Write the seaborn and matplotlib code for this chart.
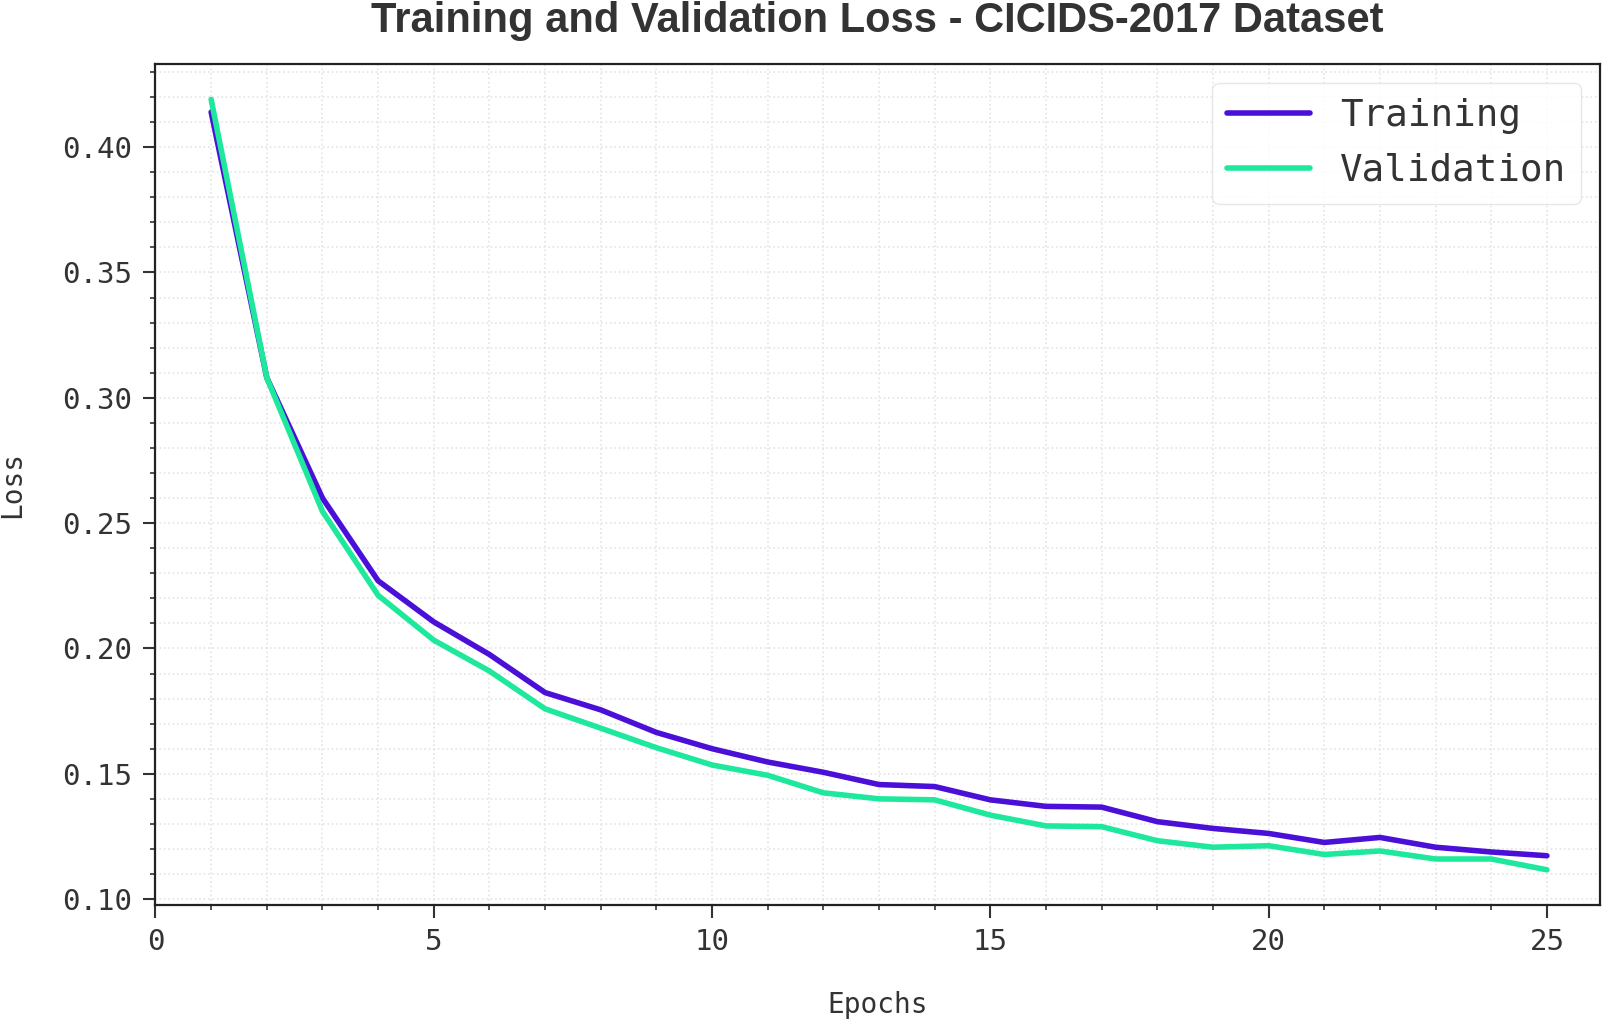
"""Training vs validation loss curve."""

import matplotlib.pyplot as plt
import pandas as pd
import seaborn as sns
from matplotlib.ticker import MultipleLocator

sns.set_theme(style="ticks")

epochs = list(range(1, 26))
train_loss = [0.414, 0.308, 0.260, 0.227, 0.2106, 0.1976, 0.1824, 0.1755, 0.1665,
              0.160, 0.1547, 0.1506, 0.1457, 0.1449, 0.1396, 0.1370, 0.1367, 0.1309,
              0.1282, 0.1262, 0.1226, 0.1246, 0.1207, 0.1188, 0.1173]
val_loss = [0.4190, 0.308, 0.2547, 0.2212, 0.2033, 0.1910, 0.1759, 0.1682, 0.1604,
            0.1535, 0.1494, 0.1424, 0.1400, 0.1396, 0.1335, 0.1292, 0.1289, 0.1233,
            0.1207, 0.1213, 0.1178, 0.1192, 0.1160, 0.1160, 0.1117]
series_names = ["Training", "Validation"]
series_colors = ["#4A10D8", "#1DE89C"]

df = pd.DataFrame({
    "Epochs": epochs * 2,
    "Loss": train_loss + val_loss,
    "Series": [series_names[0]] * len(epochs) + [series_names[1]] * len(epochs),
})

mono = "DejaVu Sans Mono"
text_col = "#333333"

fig = plt.figure(figsize=(16.03, 10.19), dpi=100)
ax = fig.add_axes([0.097, 0.112, 0.901, 0.825])

sns.lineplot(data=df, x="Epochs", y="Loss", hue="Series",
             palette=dict(zip(series_names, series_colors)),
             linewidth=4.0, ax=ax)

ax.set_xlim(0, 25.95)
ax.set_ylim(0.0977, 0.4331)
ax.xaxis.set_major_locator(MultipleLocator(5))
ax.xaxis.set_minor_locator(MultipleLocator(1))
ax.yaxis.set_major_locator(MultipleLocator(0.05))
ax.yaxis.set_minor_locator(MultipleLocator(0.01))
ax.yaxis.set_major_formatter(plt.FormatStrFormatter("%.2f"))

ax.grid(which="both", linestyle=":", linewidth=1.2, color="#e4e4e4")
ax.set_axisbelow(True)

for sp in ax.spines.values():
    sp.set_color("#222222")
    sp.set_linewidth(1.6)

ax.tick_params(which="major", length=9, width=1.5, pad=8, color="#333333",
               labelsize=21, labelcolor=text_col)
ax.tick_params(which="minor", length=3.5, width=1.2, color="#333333")
for lab in ax.get_xticklabels() + ax.get_yticklabels():
    lab.set_fontfamily(mono)

ax.set_xlabel("Epochs", fontsize=20, family=mono, color=text_col, labelpad=25)
ax.set_ylabel("Loss", fontsize=20, family=mono, color=text_col, labelpad=26)
ax.set_title("Training and Validation Loss - CICIDS-2017 Dataset",
             fontsize=30, fontweight="bold", family="Liberation Sans",
             color=text_col, pad=23)

leg = ax.legend(loc="upper right", prop={"family": mono, "size": 27},
                handlelength=2.2, handletextpad=0.8, borderaxespad=0.5,
                frameon=True, fancybox=True, framealpha=0.85)
leg.get_frame().set_edgecolor("#e3e3e3")
for line in leg.get_lines():
    line.set_linewidth(4.0)
for t in leg.get_texts():
    t.set_color(text_col)

fig.savefig("out.png", dpi=100)
plt.close(fig)
